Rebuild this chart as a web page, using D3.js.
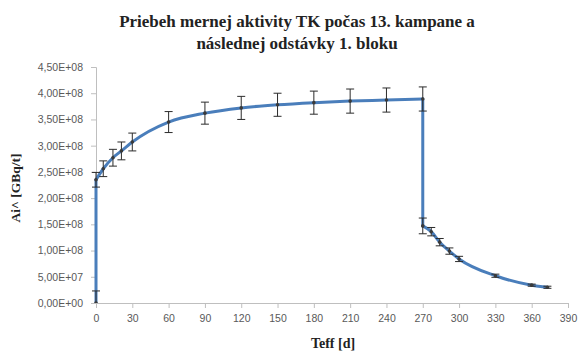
<!DOCTYPE html>
<html>
<head>
<meta charset="utf-8">
<script src="https://cdn.jsdelivr.net/npm/d3@7/dist/d3.min.js"></script>
<style>
  html, body { margin: 0; padding: 0; background: #fff; }
  svg { display: block; }
</style>
</head>
<body>
<svg id="chart" width="579" height="351"></svg>
<script>
// Effective time of the campaign and following outage [days]
const days = [0, 0, 6, 14, 21, 30, 60, 90, 120, 150, 180, 210, 240, 270, 270, 277, 284, 292, 300, 330, 360, 373];
// Specific activity Ai^ [GBq/t]
const activity = [0, 2.35e8, 2.56e8, 2.77e8, 2.90e8, 3.07e8, 3.45e8, 3.62e8, 3.72e8, 3.78e8, 3.82e8, 3.85e8, 3.87e8, 3.89e8,
                  1.47e8, 1.36e8, 1.16e8, 0.99e8, 0.84e8, 0.52e8, 0.34e8, 0.30e8];
// Uncertainty (± half-length of the error bar)
const errors = [2.3e7, 1.4e7, 1.5e7, 1.6e7, 1.7e7, 1.7e7, 2.0e7, 2.1e7, 2.2e7, 2.2e7, 2.2e7, 2.3e7, 2.3e7, 2.3e7,
                1.5e7, 0.8e7, 0.7e7, 0.6e7, 0.5e7, 0.3e7, 0.2e7, 0.2e7];
const xTicks = [0, 30, 60, 90, 120, 150, 180, 210, 240, 270, 300, 330, 360, 390];
const yTicks = [0, 0.5e8, 1.0e8, 1.5e8, 2.0e8, 2.5e8, 3.0e8, 3.5e8, 4.0e8, 4.5e8];
const titleLines = ["Priebeh mernej aktivity TK počas 13. kampane a", "následnej odstávky 1. bloku"];
const xTitle = "Teff [d]";
const yTitle = "Ai^ [GBq/t]";

const svg = d3.select("#chart");
const plot = { left: 96, right: 568, top: 67, bottom: 303 };

const x = d3.scaleLinear().domain([0, 390]).range([plot.left, plot.right]);
const y = d3.scaleLinear().domain([0, 4.5e8]).range([plot.bottom, plot.top]);

// Excel-like scientific tick format with comma decimal separator
const fmtSci = v => {
  if (v === 0) return "0,00E+00";
  const e = Math.floor(Math.log10(v));
  const m = v / Math.pow(10, e);
  return m.toFixed(2).replace(".", ",") + "E+" + String(e).padStart(2, "0");
};

const axisColor = "#bfbfbf";
const labelColor = "#595959";
const tickFont = "Liberation Sans, Arial, sans-serif";
const serif = "Liberation Serif, Times New Roman, serif";

// Y axis
const yAxis = svg.append("g")
  .attr("transform", `translate(${plot.left},0)`)
  .call(d3.axisLeft(y).tickValues(yTicks).tickFormat(fmtSci).tickSize(5).tickPadding(8));
// X axis
const xAxis = svg.append("g")
  .attr("transform", `translate(0,${plot.bottom})`)
  .call(d3.axisBottom(x).tickValues(xTicks).tickFormat(d3.format("d")).tickSize(5).tickPadding(7));

[yAxis, xAxis].forEach(g => {
  g.select(".domain").attr("stroke", axisColor).attr("stroke-width", 1);
  g.selectAll(".tick line").attr("stroke", axisColor);
  g.selectAll(".tick text").attr("fill", labelColor)
    .attr("font-family", tickFont).attr("font-size", 10.5);
});

// Title
svg.append("text")
  .attr("x", 297).attr("y", 27)
  .attr("text-anchor", "middle")
  .attr("font-family", serif)
  .attr("font-weight", "bold").attr("font-size", 17).attr("fill", "#222")
  .selectAll("tspan").data(titleLines).join("tspan")
  .attr("x", 297).attr("dy", (d, i) => i === 0 ? 0 : 22)
  .text(d => d);

// Axis titles
svg.append("text")
  .attr("x", 333).attr("y", 348)
  .attr("text-anchor", "middle")
  .attr("font-family", serif)
  .attr("font-weight", "bold").attr("font-size", 14).attr("fill", "#222")
  .text(xTitle);

svg.append("text")
  .attr("transform", "translate(20,188) rotate(-90)")
  .attr("text-anchor", "middle")
  .attr("font-family", serif)
  .attr("font-weight", "bold").attr("font-size", 13.5).attr("fill", "#222")
  .text(yTitle);

// Build points and split into runs: vertical jumps drawn straight, the rest smoothed
const pts = days.map((d, i) => ({ d, v: activity[i], e: errors[i] }));
const runs = [];
let cur = [pts[0]];
for (let i = 1; i < pts.length; i++) {
  if (pts[i].d === pts[i - 1].d) {
    if (cur.length > 1) runs.push({ pts: cur, smooth: true });
    runs.push({ pts: [pts[i - 1], pts[i]], smooth: false });
    cur = [pts[i]];
  } else {
    cur.push(pts[i]);
  }
}
if (cur.length > 1) runs.push({ pts: cur, smooth: true });

svg.append("clipPath").attr("id", "plotClip")
  .append("rect").attr("x", plot.left - 10).attr("y", plot.top - 20)
  .attr("width", plot.right - plot.left + 20).attr("height", plot.bottom - plot.top + 20);

const series = svg.append("g").attr("clip-path", "url(#plotClip)");

runs.forEach(r => {
  const line = d3.line().x(p => x(p.d)).y(p => y(p.v))
    .curve(r.smooth ? d3.curveMonotoneX : d3.curveLinear);
  series.append("path").datum(r.pts)
    .attr("d", line)
    .attr("fill", "none")
    .attr("stroke", "#4a7ebb")
    .attr("stroke-width", 3)
    .attr("stroke-linejoin", "round")
    .attr("stroke-linecap", "round");
});

// Error bars
const eb = series.append("g").attr("stroke", "#2b2b2b").attr("stroke-width", 1);
pts.forEach(p => {
  const cx = x(p.d), y1 = y(p.v + p.e), y0 = y(p.v - p.e);
  eb.append("line").attr("x1", cx).attr("x2", cx).attr("y1", y1).attr("y2", y0);
  eb.append("line").attr("x1", cx - 4).attr("x2", cx + 4).attr("y1", y1).attr("y2", y1);
  eb.append("line").attr("x1", cx - 4).attr("x2", cx + 4).attr("y1", y0).attr("y2", y0);
});

// Markers
series.append("g").selectAll("circle").data(pts).join("circle")
  .attr("cx", p => x(p.d)).attr("cy", p => y(p.v)).attr("r", 1.8)
  .attr("fill", "#3a3a3a");
</script>
</body>
</html>
